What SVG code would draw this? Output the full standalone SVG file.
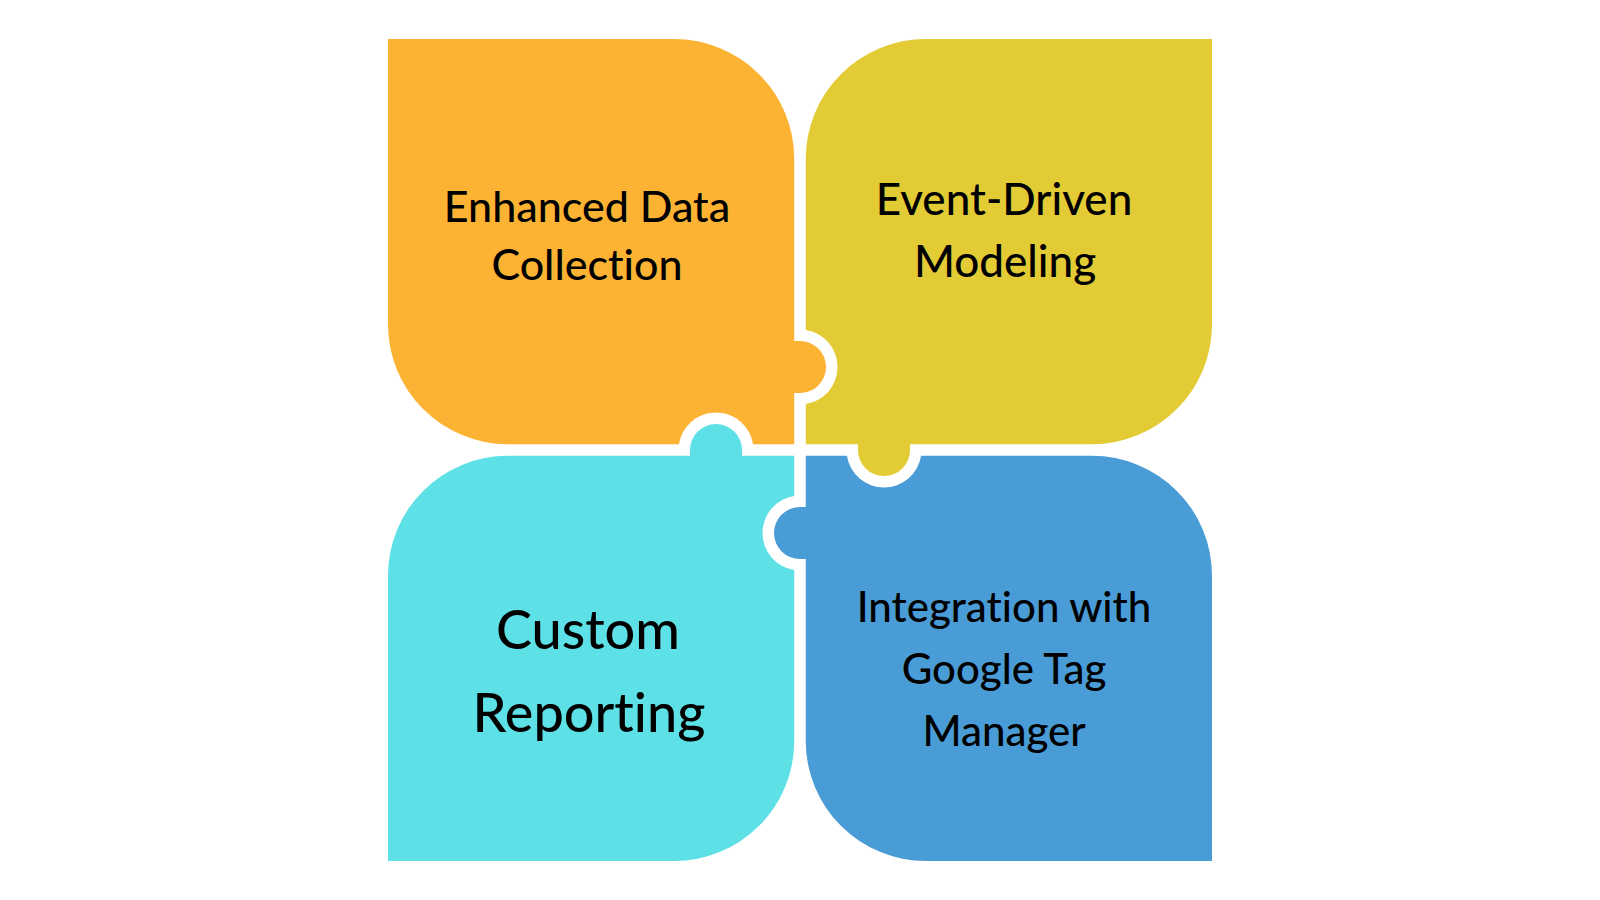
<svg xmlns="http://www.w3.org/2000/svg" width="1600" height="900" viewBox="0 0 1600 900">
<style>
.lbl{font-family:Lato,"Liberation Sans",sans-serif;font-weight:500;fill:#000;text-anchor:middle;font-variant-ligatures:none}
</style>
<rect width="1600" height="900" fill="#ffffff"/>
<g id="node-enhanced-data-collection">
<path fill="#FCB334" d="M 388 39 L 674.25 39 A 120 120 0 0 1 794.25 159 L 794.25 341 L 800 341 A 26 26 0 0 1 826 367 A 26 26 0 0 1 800 393 L 794.25 393 L 794.25 444.25 L 753.06 444.25 A 37.5 37.5 0 0 0 678.94 444.25 L 508 444.25 A 120 120 0 0 1 388 324.25 Z"/>
<text class="lbl" font-size="43" x="587" y="222">Enhanced Data</text>
<text class="lbl" font-size="43" x="587" y="280">Collection</text>
</g>
<g id="node-event-driven-modeling">
<path fill="#E3CB35" d="M 805.75 159 A 120 120 0 0 1 925.75 39 L 1212 39 L 1212 324.25 A 120 120 0 0 1 1092 444.25 L 910 444.25 L 910 450 A 26 26 0 0 1 884 476 A 26 26 0 0 1 858 450 L 858 444.25 L 805.75 444.25 L 805.75 404.06 A 37.5 37.5 0 0 0 805.75 329.94 Z"/>
<text class="lbl" font-size="44" x="1004" y="215">Event-Driven</text>
<text class="lbl" font-size="44" x="1005" y="277">Modeling</text>
</g>
<g id="node-custom-reporting">
<path fill="#5DE1E6" d="M 388 575.75 A 120 120 0 0 1 508 455.75 L 690 455.75 L 690 450 A 26 26 0 0 1 716 424 A 26 26 0 0 1 742 450 L 742 455.75 L 794.25 455.75 L 794.25 495.94 A 37.5 37.5 0 0 0 794.25 570.06 L 794.25 741 A 120 120 0 0 1 674.25 861 L 388 861 Z"/>
<text class="lbl" font-size="54" x="588" y="649">Custom</text>
<text class="lbl" font-size="54" x="589" y="731.5">Reporting</text>
</g>
<g id="node-google-tag-manager">
<path fill="#4A9CD6" d="M 805.75 455.75 L 846.94 455.75 A 37.5 37.5 0 0 0 921.06 455.75 L 1092 455.75 A 120 120 0 0 1 1212 575.75 L 1212 861 L 925.75 861 A 120 120 0 0 1 805.75 741 L 805.75 559 L 800 559 A 26 26 0 0 1 774 533 A 26 26 0 0 1 800 507 L 805.75 507 Z"/>
<text class="lbl" font-size="42" x="1004" y="622">Integration with</text>
<text class="lbl" font-size="42" x="1004" y="684">Google Tag</text>
<text class="lbl" font-size="42" x="1004" y="746">Manager</text>
</g>
<g id="connectors"/>
</svg>
